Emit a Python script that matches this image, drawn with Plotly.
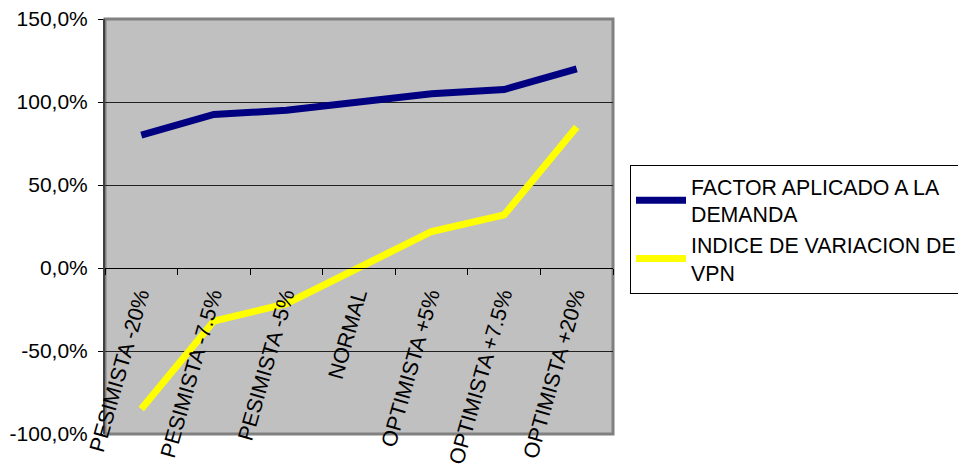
import plotly.graph_objects as go

categories = ["PESIMISTA -20%", "PESIMISTA -7.5%", "PESIMISTA -5%", "NORMAL",
              "OPTIMISTA +5%", "OPTIMISTA +7.5%", "OPTIMISTA +20%"]
factor_demanda = [80, 92.5, 95, 100, 105, 107.5, 120]
indice_vpn = [-85, -32, -21.5, 0, 22, 32, 85]
series_names = ["FACTOR APLICADO A LA<br>DEMANDA", "INDICE DE VARIACION DE<br>VPN"]
y_tickvals = [-100, -50, 0, 50, 100, 150]
y_ticktext = ["-100,0%", "-50,0%", "0,0%", "50,0%", "100,0%", "150,0%"]

FONT = "Liberation Sans, Arial, sans-serif"

fig = go.Figure()
fig.add_trace(go.Scatter(x=categories, y=factor_demanda, mode="lines",
                         name=series_names[0],
                         line=dict(color="#000080", width=7)))
fig.add_trace(go.Scatter(x=categories, y=indice_vpn, mode="lines",
                         name=series_names[1],
                         line=dict(color="#FFFF00", width=7)))

fig.update_layout(
    width=958, height=467,
    margin=dict(l=105, r=345, t=19, b=33, autoexpand=False),
    paper_bgcolor="white",
    plot_bgcolor="#C0C0C0",
    font=dict(family=FONT, size=21, color="black"),
    showlegend=True,
    legend=dict(xref="container", yref="container",
                x=630 / 958, y=1 - 165 / 467, xanchor="left", yanchor="top",
                bgcolor="white", bordercolor="black", borderwidth=1,
                font=dict(size=21.3), tracegroupgap=0, itemwidth=50),
    xaxis=dict(type="category", range=[-0.5, 6.5], anchor="free", position=0.4,
               automargin=False,
               showline=True, linecolor="black", linewidth=1,
               ticks="outside", tickson="boundaries", ticklen=6, tickcolor="black",
               tickangle=-74, showgrid=False, zeroline=False,
               ticklabelstandoff=5, ticklabelshift=-2, tickfont=dict(size=21.5)),
    yaxis=dict(range=[-100, 150], tickvals=y_tickvals, ticktext=y_ticktext,
               automargin=False,
               showgrid=True, gridcolor="#202020", gridwidth=1,
               zeroline=False, showline=True, linecolor="#404040", linewidth=2,
               ticks="outside", ticklen=5, tickcolor="black",
               ticklabelstandoff=6, tickfont=dict(size=21)),
    shapes=[dict(type="rect", xref="paper", yref="paper", x0=0, x1=1, y0=0, y1=1,
                 line=dict(color="#808080", width=3), layer="below")],
)

fig.write_html("out.html")
